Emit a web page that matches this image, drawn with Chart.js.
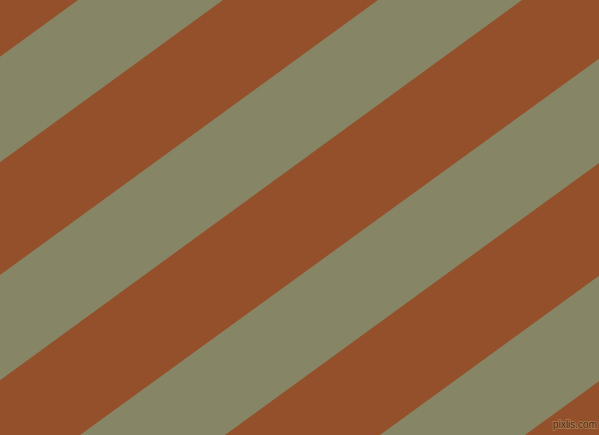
<!DOCTYPE html>
<html>
<head>
<meta charset="utf-8">
<script src="https://cdn.jsdelivr.net/npm/chart.js@4.4.1/dist/chart.umd.min.js"></script>
<style>
  html, body { margin: 0; padding: 0; background: #944f2b; }
  #wrap { width: 599px; height: 435px; }
</style>
</head>
<body>
<div id="wrap"><canvas id="chartCanvas" width="599" height="435"></canvas></div>
<script>
// olive stripes, where each edge crosses the top row (y=0) and bottom row (y=435)
const stripeLeftTop = [78, 378, 680, 978];
const stripeRightTop = [223, 522, 823, 1123];
const stripeLeftBottom = [-520, -220, 80, 380];
const stripeRightBottom = [-375, -75, 225, 525];
const rowTop = 0;
const rowBottom = 435;
const watermark = "pixlis.com";

const brown = "#944f2b";
const olive = "#868666";

(function () {
  const datasets = stripeLeftTop.map((lt, i) => ({
    label: "stripe " + (i + 1),
    data: [
      { x: lt, y: rowTop },
      { x: stripeRightTop[i], y: rowTop },
      { x: stripeRightBottom[i], y: rowBottom },
      { x: stripeLeftBottom[i], y: rowBottom }
    ],
    backgroundColor: olive,
    borderColor: olive,
    borderWidth: 0,
    pointRadius: 0,
    fill: "shape",
    tension: 0
  }));

  const mark = {
    id: "mark",
    afterDraw(chart) {
      const { ctx, chartArea } = chart;
      ctx.save();
      ctx.font = "10px 'Liberation Sans'";
      ctx.textAlign = "right";
      ctx.textBaseline = "alphabetic";
      ctx.lineWidth = 2;
      ctx.strokeStyle = "#a8744c";
      ctx.strokeText(watermark, chartArea.right - 2, chartArea.bottom - 7);
      ctx.fillStyle = "#4e2a14";
      ctx.fillText(watermark, chartArea.right - 2, chartArea.bottom - 7);
      ctx.restore();
    }
  };

  const ctx = document.getElementById("chartCanvas").getContext("2d");
  new Chart(ctx, {
    type: "line",
    data: { datasets },
    options: {
      responsive: false,
      animation: false,
      devicePixelRatio: 1,
      layout: { padding: 0 },
      plugins: { legend: { display: false }, tooltip: { enabled: false } },
      scales: {
        x: { type: "linear", min: 0, max: 599, display: false },
        y: { type: "linear", min: rowTop, max: rowBottom, reverse: true, display: false }
      }
    },
    plugins: [mark]
  });
})();
</script>
</body>
</html>
